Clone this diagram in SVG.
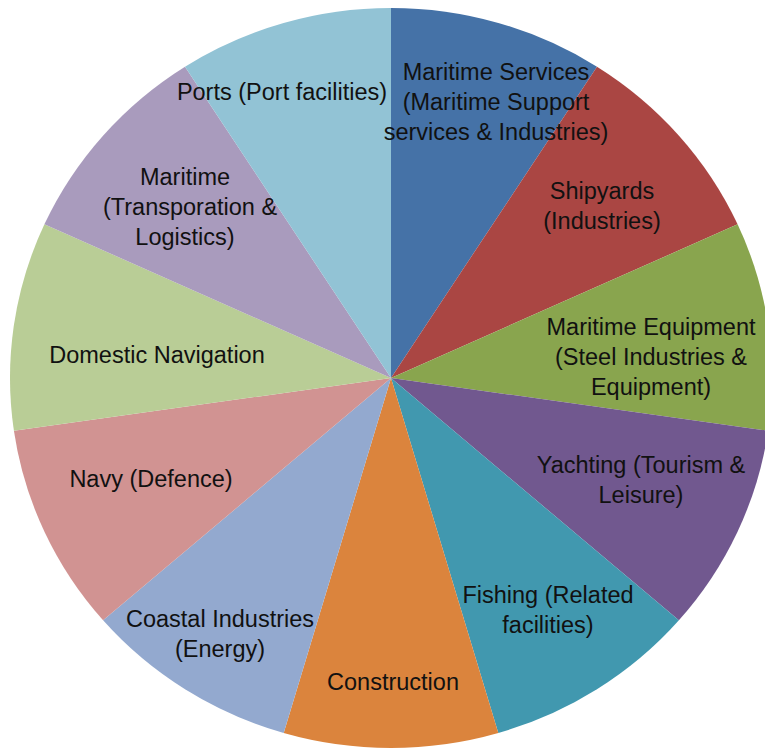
<svg xmlns="http://www.w3.org/2000/svg" width="765" height="748" viewBox="0 0 765 748">
<style>
text{font-family:"Liberation Sans",Arial,sans-serif;font-size:23.5px;fill:#111;text-anchor:middle}
</style>
<rect width="765" height="748" fill="#fff"/>
<g id="slices">
<g id="maritime-services"><path d="M391 378 L391 8 A381 370 0 0 1 597 66.7 Z" fill="#4572A7"/></g>
<g id="shipyards"><path d="M391 378 L597 66.7 A381 370 0 0 1 737.6 224.3 Z" fill="#AA4643"/></g>
<g id="maritime-equipment"><path d="M391 378 L737.6 224.3 A381 370 0 0 1 768.1 430.7 Z" fill="#89A54E"/></g>
<g id="yachting"><path d="M391 378 L768.1 430.7 A381 370 0 0 1 678.9 620.3 Z" fill="#71588F"/></g>
<g id="fishing"><path d="M391 378 L678.9 620.3 A381 370 0 0 1 498.3 733 Z" fill="#4198AF"/></g>
<g id="construction"><path d="M391 378 L498.3 733 A381 370 0 0 1 283.7 733 Z" fill="#DB843D"/></g>
<g id="coastal"><path d="M391 378 L283.7 733 A381 370 0 0 1 103.1 620.3 Z" fill="#93A9CF"/></g>
<g id="navy"><path d="M391 378 L103.1 620.3 A381 370 0 0 1 13.9 430.7 Z" fill="#D19392"/></g>
<g id="domestic"><path d="M391 378 L13.9 430.7 A381 370 0 0 1 44.4 224.3 Z" fill="#B9CD96"/></g>
<g id="transport"><path d="M391 378 L44.4 224.3 A381 370 0 0 1 185 66.7 Z" fill="#A99BBD"/></g>
<g id="ports"><path d="M391 378 L185 66.7 A381 370 0 0 1 391 8 Z" fill="#92C3D5"/></g>
</g>
<g id="labels">
<text x="496" y="80">Maritime Services</text>
<text x="496" y="110">(Maritime Support</text>
<text x="496" y="140">services &amp; Industries)</text>
<text x="602" y="199">Shipyards</text>
<text x="602" y="229">(Industries)</text>
<text x="651" y="335">Maritime Equipment</text>
<text x="651" y="365">(Steel Industries &amp;</text>
<text x="651" y="395">Equipment)</text>
<text x="641" y="473">Yachting (Tourism &amp;</text>
<text x="641" y="503">Leisure)</text>
<text x="548" y="603">Fishing (Related</text>
<text x="548" y="633">facilities)</text>
<text x="393" y="690">Construction</text>
<text x="220" y="627">Coastal Industries</text>
<text x="220" y="657">(Energy)</text>
<text x="151" y="487">Navy (Defence)</text>
<text x="157" y="363">Domestic Navigation</text>
<text x="185" y="185">Maritime</text>
<text x="190" y="215">(Transporation &amp;</text>
<text x="185" y="245">Logistics)</text>
<text x="282" y="100">Ports (Port facilities)</text>
</g>
</svg>
